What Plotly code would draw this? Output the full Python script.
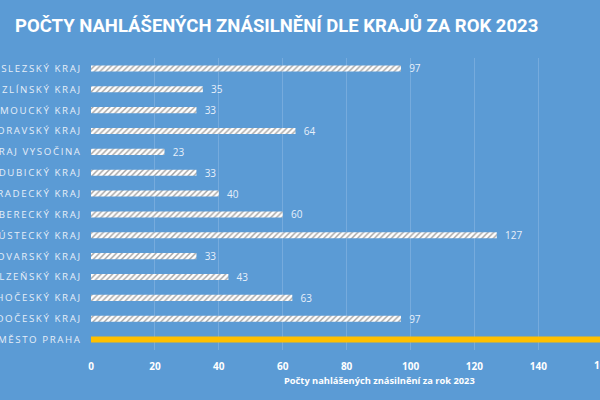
import plotly.graph_objects as go

BG = "#5B9BD5"
GRID = "#76ABDD"
PRAHA_COLOUR = "#FFC000"

# top-to-bottom order as drawn
regions = [
    "Moravskoslezský kraj",
    "Zlínský kraj",
    "Olomoucký kraj",
    "Jihomoravský kraj",
    "Kraj Vysočina",
    "Pardubický kraj",
    "Královéhradecký kraj",
    "Liberecký kraj",
    "Ústecký kraj",
    "Karlovarský kraj",
    "Plzeňský kraj",
    "Jihočeský kraj",
    "Středočeský kraj",
    "Hlavní město Praha",
]
cases = [97, 35, 33, 64, 23, 33, 40, 60, 127, 33, 43, 63, 97, 170]
highlight = "Hlavní město Praha"

x_ticks = [0, 20, 40, 60, 80, 100, 120, 140, 160]
x_range = [0, 159.3]


def spaced(label):
    """Upper-case label with thin spaces between letters (letter-spaced look)."""
    return "\u2009".join(label.upper())


colours = [PRAHA_COLOUR if r == highlight else "#FFFFFF" for r in regions]
labels = ["" if r == highlight else f"  {v}" for r, v in zip(regions, cases)]

fig = go.Figure()
fig.add_trace(go.Bar(
    y=regions,
    x=cases,
    orientation="h",
    width=0.29,
    marker=dict(
        color=colours,
        line=dict(width=0),
        pattern=dict(
            shape=["" if r == highlight else "/" for r in regions],
            fgcolor=BG,
            bgcolor="#FFFFFF",
            size=4,
            solidity=0.35,
        ),
    ),
    text=labels,
    textposition="outside",
    constraintext="none",
    textfont=dict(family="Open Sans, sans-serif", size=10, color="#E8F0FA"),
    cliponaxis=False,
    showlegend=False,
))

fig.update_layout(
    width=600,
    height=400,
    paper_bgcolor=BG,
    plot_bgcolor=BG,
    margin=dict(l=91, r=0, t=58, b=50),
    title=dict(
        text="POČTY NAHLÁŠENÝCH ZNÁSILNĚNÍ DLE KRAJŮ ZA ROK 2023",
        x=0.025, xanchor="left", y=0.937, yanchor="middle",
        font=dict(family="Roboto, sans-serif", size=18.5, color="#FFFFFF", weight="bold"),
    ),
    xaxis=dict(
        range=x_range,
        tickvals=x_ticks,
        showgrid=True,
        gridcolor=GRID,
        gridwidth=1,
        zeroline=False,
        showline=False,
        tickfont=dict(family="Open Sans, sans-serif", size=10, color="#FFFFFF", weight="bold"),
        ticklabelstandoff=9,
        automargin=False,
    ),
    yaxis=dict(
        autorange="reversed",
        tickvals=regions,
        ticktext=[spaced(r) for r in regions],
        tickfont=dict(family="Open Sans, sans-serif", size=9.7, color="#E6EEF8"),
        ticklabelstandoff=10,
        showgrid=False,
        zeroline=False,
        automargin=False,
    ),
    annotations=[
        dict(
            text="Počty nahlášených znásilnění za rok 2023",
            xref="x", x=sum(x_range) / 2 + 10.5, xanchor="center",
            yref="paper", y=-0.105, yanchor="middle",
            showarrow=False,
            font=dict(family="Open Sans, sans-serif", size=9.3, color="#FFFFFF", weight="bold"),
        ),
        dict(
            text=str(x_ticks[-1]),
            xref="paper", x=(x_ticks[-1] - x_range[0]) / (x_range[1] - x_range[0]),
            xanchor="center",
            yref="paper", y=-0.051, yanchor="middle",
            showarrow=False,
            font=dict(family="Open Sans, sans-serif", size=10, color="#FFFFFF", weight="bold"),
        ),
    ],
)

fig.write_html(
    "out.html",
    config={"displayModeBar": False},
    post_script="document.body.style.margin = '0';",
)
